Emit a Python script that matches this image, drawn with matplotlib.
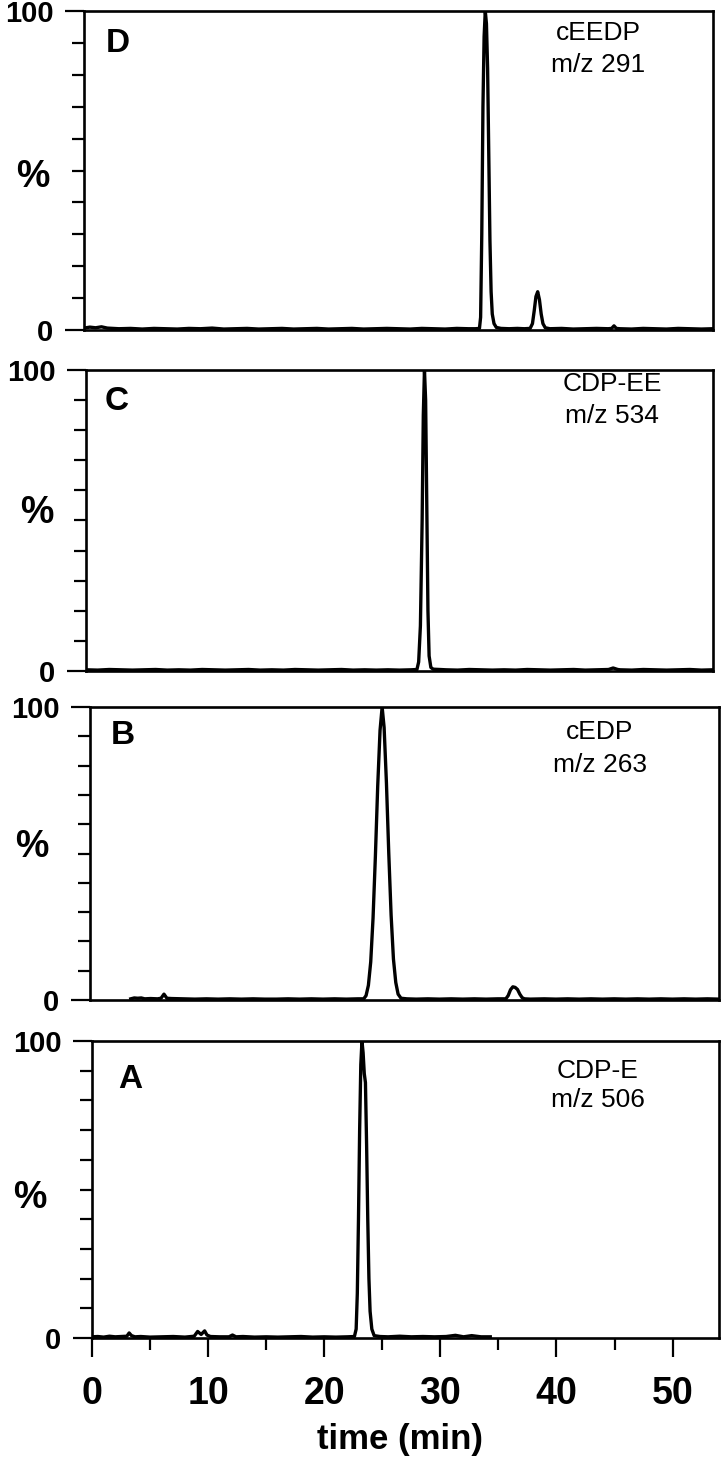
import matplotlib
matplotlib.use("Agg")
import matplotlib.pyplot as plt
from matplotlib.ticker import MultipleLocator, FixedLocator

W, H = 721, 1458
FONT = "Liberation Sans"

# panel D: cEEDP m/z 291
d_time = [0, 0.5, 1, 1.5, 2, 3, 4, 5, 6, 7, 8, 9, 10, 11, 12, 13, 14, 15, 16, 17, 18,
          19, 20, 21, 22, 23, 24, 25, 26, 27, 28, 29, 30, 31, 32, 33, 33.6, 33.95,
          34.05, 34.15, 34.25, 34.35, 34.45, 34.55, 34.65, 34.75, 34.85, 34.95, 35.05,
          35.2, 35.4, 35.8, 36.5, 37.2, 37.8, 38.3, 38.5, 38.65, 38.8, 38.95, 39.1,
          39.25, 39.4, 39.6, 40, 41, 42, 43, 44, 45, 45.3, 45.5, 45.7, 46, 47, 48, 49,
          50, 51, 52, 53, 54]
d_int = [0.6, 0.9, 0.7, 1.0, 0.6, 0.4, 0.5, 0.3, 0.5, 0.4, 0.3, 0.5, 0.4, 0.6, 0.3, 0.4,
         0.5, 0.3, 0.4, 0.5, 0.3, 0.4, 0.5, 0.3, 0.4, 0.5, 0.3, 0.4, 0.5, 0.4, 0.3, 0.5,
         0.4, 0.3, 0.5, 0.4, 0.4, 0.5, 4, 30, 70, 92, 100, 96, 82, 55, 28, 12, 5, 2, 0.8,
         0.5, 0.4, 0.5, 0.4, 0.5, 2, 6, 10.5, 12, 9.5, 5, 2, 0.7, 0.4, 0.5, 0.3, 0.4,
         0.5, 0.4, 0.5, 1.3, 0.5, 0.4, 0.3, 0.5, 0.4, 0.3, 0.5, 0.4, 0.3, 0.4]

# panel C: CDP-EE m/z 534
c_time = [0, 1, 2, 3, 4, 5, 6, 7, 8, 9, 10, 11, 12, 13, 14, 15, 16, 17, 18, 19, 20, 21,
          22, 23, 24, 25, 26, 27, 28, 28.5, 28.65, 28.8, 28.95, 29.05, 29.15, 29.25,
          29.35, 29.45, 29.55, 29.7, 29.9, 30.5, 31, 32, 33, 34, 35, 36, 37, 38, 39, 40,
          41, 42, 43, 44, 45, 45.4, 45.8, 46, 47, 48, 49, 50, 51, 52, 53, 54]
c_int = [0.4, 0.3, 0.5, 0.4, 0.3, 0.4, 0.5, 0.3, 0.4, 0.3, 0.5, 0.4, 0.3, 0.4, 0.5, 0.3,
         0.4, 0.3, 0.5, 0.4, 0.3, 0.4, 0.5, 0.3, 0.4, 0.3, 0.4, 0.3, 0.4, 0.5, 3, 15,
         50, 85, 100, 90, 55, 20, 5, 1.2, 0.6, 0.5, 0.4, 0.3, 0.5, 0.4, 0.3, 0.4, 0.3,
         0.5, 0.4, 0.3, 0.4, 0.5, 0.3, 0.4, 0.5, 1.0, 0.5, 0.4, 0.3, 0.5, 0.4, 0.3, 0.4,
         0.5, 0.3, 0.4]

# panel B: cEDP m/z 263
b_time = [3.5, 3.8, 4.1, 4.4, 4.7, 5.2, 5.8, 6.1, 6.35, 6.6, 7.0, 8, 9, 10, 11, 12, 13,
          14, 15, 16, 17, 18, 19, 20, 21, 22, 23, 23.5, 23.7, 23.9, 24.1, 24.3, 24.5,
          24.7, 24.9, 25.08, 25.25, 25.45, 25.65, 25.85, 26.05, 26.25, 26.45, 26.7,
          27.2, 28, 29, 30, 31, 32, 33, 34, 35, 35.7, 35.9, 36.1, 36.3, 36.5, 36.7,
          36.9, 37.1, 37.3, 37.8, 39, 40, 41, 42, 43, 44, 45, 46, 47, 48, 49, 50, 51,
          52, 53, 54]
b_int = [0.4, 0.7, 0.6, 0.7, 0.4, 0.5, 0.4, 0.6, 2.0, 0.6, 0.5, 0.4, 0.3, 0.4, 0.3, 0.4,
         0.3, 0.4, 0.3, 0.3, 0.4, 0.3, 0.4, 0.3, 0.4, 0.3, 0.4, 0.4, 1.5, 5, 13, 28, 49,
         73, 92, 100, 93, 74, 50, 29, 14, 6, 2, 0.6, 0.4, 0.3, 0.4, 0.3, 0.4, 0.3, 0.4,
         0.3, 0.4, 0.4, 1.5, 3.5, 4.5, 4.3, 3.6, 2.0, 0.8, 0.4, 0.3, 0.4, 0.3, 0.4, 0.3,
         0.4, 0.3, 0.4, 0.3, 0.4, 0.3, 0.4, 0.3, 0.4, 0.3, 0.4, 0.3]

# panel A: CDP-E m/z 506
a_time = [0, 0.5, 1, 1.5, 2, 2.5, 3.0, 3.2, 3.4, 3.7, 4.2, 5, 6, 7, 8, 8.8, 9.1, 9.4,
          9.7, 9.9, 10.2, 11, 11.8, 12.1, 12.4, 13, 14, 15, 16, 17, 18, 19, 20, 21, 22,
          22.6, 22.75, 22.85, 22.95, 23.05, 23.15, 23.25, 23.35, 23.45, 23.55, 23.65,
          23.75, 23.85, 23.95, 24.1, 24.3, 24.8, 25.5, 26.5, 27.5, 28.5, 29.5, 30.5,
          31.3, 32, 32.7, 33.5, 34.3]
a_int = [0.4, 0.5, 0.3, 0.6, 0.4, 0.5, 0.6, 1.7, 0.8, 0.4, 0.5, 0.3, 0.4, 0.5, 0.3, 0.6,
         2.2, 1.2, 2.4, 1.0, 0.5, 0.4, 0.4, 1.0, 0.4, 0.5, 0.3, 0.4, 0.3, 0.4, 0.5, 0.3,
         0.4, 0.3, 0.4, 0.5, 3, 15, 40, 70, 92, 100, 96, 89, 86, 65, 40, 20, 9, 3, 0.8,
         0.5, 0.4, 0.6, 0.4, 0.5, 0.4, 0.5, 0.9, 0.4, 0.8, 0.4, 0.4]

traces = [d_time, c_time, b_time, a_time]
intensities = [d_int, c_int, b_int, a_int]
letters = ["D", "C", "B", "A"]
compounds = ["cEEDP", "CDP-EE", "cEDP", "CDP-E"]
mz_labels = ["m/z 291", "m/z 534", "m/z 263", "m/z 506"]

# panel boxes in pixels: left, right, top, bottom
boxes = [(84, 713, 11, 330), (86, 713, 370, 671), (90, 719, 707, 1000), (92, 719, 1041, 1338)]
letter_pos = [(118, 44), (117, 402), (123, 736), (130, 1080)]
label_pos = [(598, 33, 65), (612, 384, 416), (600, 732, 765), (598, 1071, 1100)]
pct_pos = [(33, 177), (37, 513), (32, 847), (30, 1198)]


def fx(x):
    return x / W


def fy(y):
    return 1 - y / H


fig = plt.figure(figsize=(W / 100, H / 100), dpi=100)

for i in range(4):
    left, right, top, bottom = boxes[i]
    ax = fig.add_axes([fx(left), fy(bottom), (right - left) / W, (bottom - top) / H])
    ax.plot(traces[i], intensities[i], color="black", lw=2.4, solid_joinstyle="round")
    ax.set_xlim(0, 54)
    ax.set_ylim(0, 100)
    for s in ax.spines.values():
        s.set_linewidth(1.9)

    # y ticks: labels only at 0 and 100
    ax.yaxis.set_major_locator(FixedLocator([0, 100]))
    ax.yaxis.set_minor_locator(FixedLocator(list(range(10, 100, 10))))
    ax.tick_params(axis="y", which="major", direction="out", length=14, width=1.6, pad=8)
    ax.tick_params(axis="y", which="minor", direction="out", length=8.5, width=1.6)
    for lab in ax.get_yticklabels():
        lab.set_fontfamily(FONT)
        lab.set_fontweight("bold")
        lab.set_fontsize(21)

    if i == 3:
        ax.xaxis.set_major_locator(MultipleLocator(10))
        ax.xaxis.set_minor_locator(MultipleLocator(5))
        ax.tick_params(axis="x", which="major", direction="out", length=14, width=1.6, pad=13)
        ax.tick_params(axis="x", which="minor", direction="out", length=8.5, width=1.6)
        for lab in ax.get_xticklabels():
            lab.set_fontfamily(FONT)
            lab.set_fontweight("bold")
            lab.set_fontsize(27)
    else:
        ax.set_xticks([])

    fig.text(fx(letter_pos[i][0]), fy(letter_pos[i][1]), letters[i], family=FONT,
             weight="bold", fontsize=24, ha="center", va="center")
    lx, ly1, ly2 = label_pos[i]
    fig.text(fx(lx), fy(ly1), compounds[i], family=FONT, fontsize=19, ha="center", va="center")
    fig.text(fx(lx), fy(ly2), mz_labels[i], family=FONT, fontsize=19, ha="center", va="center")
    fig.text(fx(pct_pos[i][0]), fy(pct_pos[i][1]), "%", family=FONT, weight="bold",
             fontsize=27, ha="center", va="center")

fig.text(fx(400), fy(1440), "time (min)", family=FONT, weight="bold", fontsize=25,
         ha="center", va="center")

fig.savefig("out.png", dpi=100)
